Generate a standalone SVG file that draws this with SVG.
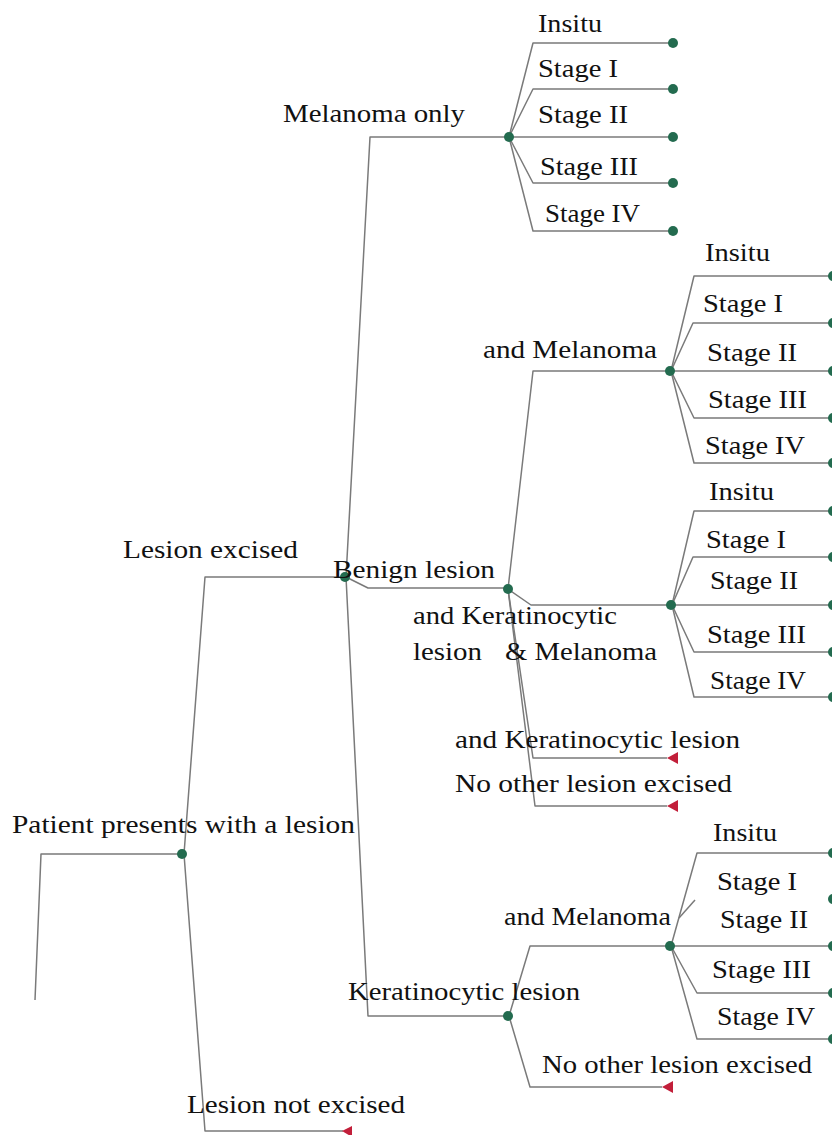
<svg xmlns="http://www.w3.org/2000/svg" width="832" height="1135" viewBox="0 0 832 1135">
<style>
.c{fill:none;stroke:#7a7a7a;stroke-width:1.5;stroke-linejoin:round}
.d{fill:#236b4f}
.t{fill:#c21f3a}
text{font-family:"Liberation Serif","Times New Roman",serif;font-size:26px;fill:#111}
</style>
<rect width="832" height="1135" fill="#ffffff"/>
<g id="connectors">
<path class="c" d="M35,1000 L41,854 L182,854"/>
<path class="c" d="M184,854 L205,577 L345,577"/>
<path class="c" d="M184,854 L205,1131 L343,1131"/>
<path class="c" d="M346,577 L370,137 L508,137"/>
<path class="c" d="M346,577 L368,588 L507,588"/>
<path class="c" d="M346,577 L368,1016 L507,1016"/>
<path class="c" d="M509,137 L533,43 L673,43"/>
<path class="c" d="M509,137 L533,89 L673,89"/>
<path class="c" d="M509,137 L673,137"/>
<path class="c" d="M509,137 L533,183 L673,183"/>
<path class="c" d="M509,137 L533,231 L673,231"/>
<path class="c" d="M508,589 L533,371 L670,371"/>
<path class="c" d="M508,589 L531,605 L671,605"/>
<path class="c" d="M508,589 L533,758 L667,758"/>
<path class="c" d="M508,589 L535,806 L667,806"/>
<path class="c" d="M671,371 L694,276 L833,276"/>
<path class="c" d="M671,371 L693,323 L833,323"/>
<path class="c" d="M671,371 L833,371"/>
<path class="c" d="M671,371 L694,418 L833,418"/>
<path class="c" d="M671,371 L694,463 L833,463"/>
<path class="c" d="M672,605 L694,511 L833,511"/>
<path class="c" d="M672,605 L693,557 L833,557"/>
<path class="c" d="M672,605 L833,605"/>
<path class="c" d="M672,605 L694,652 L833,652"/>
<path class="c" d="M672,605 L694,697 L833,697"/>
<path class="c" d="M509,1016 L530,946 L669,946"/>
<path class="c" d="M509,1016 L530,1087 L662,1087"/>
<path class="c" d="M671,946 L697,853 L833,853"/>
<path class="c" d="M679,918 L695,900"/>
<path class="c" d="M671,946 L833,946"/>
<path class="c" d="M671,946 L697,993 L833,993"/>
<path class="c" d="M671,946 L697,1039 L833,1039"/>
</g>
<g id="n-root"><circle class="d" cx="182" cy="854" r="5"/><text x="12" y="833" textLength="343" lengthAdjust="spacingAndGlyphs">Patient presents with a lesion</text></g>
<g id="n-excised"><circle class="d" cx="345" cy="577" r="5"/><text x="123" y="558" textLength="175" lengthAdjust="spacingAndGlyphs">Lesion excised</text></g>
<g id="n-notexcised"><polygon class="t" points="342,1131 352,1126 352,1137"/><text x="187" y="1113" textLength="218" lengthAdjust="spacingAndGlyphs">Lesion not excised</text></g>
<g id="n-melonly"><circle class="d" cx="509" cy="137" r="5"/><text x="283" y="122" textLength="182" lengthAdjust="spacingAndGlyphs">Melanoma only</text></g>
<g id="n-benign"><circle class="d" cx="508" cy="589" r="5"/><text x="333" y="578" textLength="162" lengthAdjust="spacingAndGlyphs">Benign lesion</text></g>
<g id="n-kerat"><circle class="d" cx="508" cy="1016" r="5"/><text x="348" y="1000" textLength="232" lengthAdjust="spacingAndGlyphs">Keratinocytic lesion</text></g>
<g id="n-mo-insitu"><circle class="d" cx="673" cy="43" r="5"/><text x="538" y="32" textLength="64" lengthAdjust="spacingAndGlyphs">Insitu</text></g>
<g id="n-mo-s1"><circle class="d" cx="673" cy="89" r="5"/><text x="538" y="77" textLength="80" lengthAdjust="spacingAndGlyphs">Stage I</text></g>
<g id="n-mo-s2"><circle class="d" cx="673" cy="137" r="5"/><text x="538" y="123" textLength="90" lengthAdjust="spacingAndGlyphs">Stage II</text></g>
<g id="n-mo-s3"><circle class="d" cx="673" cy="183" r="5"/><text x="540" y="175" textLength="98" lengthAdjust="spacingAndGlyphs">Stage III</text></g>
<g id="n-mo-s4"><circle class="d" cx="673" cy="231" r="5"/><text x="545" y="222" textLength="95" lengthAdjust="spacingAndGlyphs">Stage IV</text></g>
<g id="n-b-mel"><circle class="d" cx="670" cy="371" r="5"/><text x="483" y="358" textLength="174" lengthAdjust="spacingAndGlyphs">and Melanoma</text></g>
<g id="n-b-kermel"><circle class="d" cx="671" cy="605" r="5"/><text x="413" y="624" textLength="204" lengthAdjust="spacingAndGlyphs">and Keratinocytic</text><text x="413" y="660" textLength="69" lengthAdjust="spacingAndGlyphs">lesion</text><text x="505" y="660" textLength="152" lengthAdjust="spacingAndGlyphs">&amp; Melanoma</text></g>
<g id="n-b-ker"><polygon class="t" points="667,758 678,752 678,764"/><text x="455" y="748" textLength="285" lengthAdjust="spacingAndGlyphs">and Keratinocytic lesion</text></g>
<g id="n-b-none"><polygon class="t" points="667,806 678,800 678,812"/><text x="455" y="792" textLength="277" lengthAdjust="spacingAndGlyphs">No other lesion excised</text></g>
<g id="n-bm-insitu"><circle class="d" cx="833" cy="276" r="5"/><text x="705" y="261" textLength="65" lengthAdjust="spacingAndGlyphs">Insitu</text></g>
<g id="n-bm-s1"><circle class="d" cx="833" cy="323" r="5"/><text x="703" y="312" textLength="80" lengthAdjust="spacingAndGlyphs">Stage I</text></g>
<g id="n-bm-s2"><circle class="d" cx="833" cy="371" r="5"/><text x="707" y="361" textLength="90" lengthAdjust="spacingAndGlyphs">Stage II</text></g>
<g id="n-bm-s3"><circle class="d" cx="833" cy="418" r="5"/><text x="708" y="408" textLength="99" lengthAdjust="spacingAndGlyphs">Stage III</text></g>
<g id="n-bm-s4"><circle class="d" cx="833" cy="463" r="5"/><text x="705" y="454" textLength="100" lengthAdjust="spacingAndGlyphs">Stage IV</text></g>
<g id="n-bkm-insitu"><circle class="d" cx="833" cy="511" r="5"/><text x="709" y="500" textLength="65" lengthAdjust="spacingAndGlyphs">Insitu</text></g>
<g id="n-bkm-s1"><circle class="d" cx="833" cy="557" r="5"/><text x="706" y="548" textLength="80" lengthAdjust="spacingAndGlyphs">Stage I</text></g>
<g id="n-bkm-s2"><circle class="d" cx="833" cy="605" r="5"/><text x="710" y="589" textLength="88" lengthAdjust="spacingAndGlyphs">Stage II</text></g>
<g id="n-bkm-s3"><circle class="d" cx="833" cy="652" r="5"/><text x="707" y="643" textLength="99" lengthAdjust="spacingAndGlyphs">Stage III</text></g>
<g id="n-bkm-s4"><circle class="d" cx="833" cy="697" r="5"/><text x="710" y="689" textLength="96" lengthAdjust="spacingAndGlyphs">Stage IV</text></g>
<g id="n-k-mel"><circle class="d" cx="670" cy="946" r="5"/><text x="504" y="925" textLength="167" lengthAdjust="spacingAndGlyphs">and Melanoma</text></g>
<g id="n-k-none"><polygon class="t" points="662,1087 673,1081 673,1093"/><text x="542" y="1073" textLength="270" lengthAdjust="spacingAndGlyphs">No other lesion excised</text></g>
<g id="n-km-insitu"><circle class="d" cx="833" cy="853" r="5"/><text x="713" y="841" textLength="64" lengthAdjust="spacingAndGlyphs">Insitu</text></g>
<g id="n-km-s1"><circle class="d" cx="833" cy="899" r="5"/><text x="717" y="890" textLength="80" lengthAdjust="spacingAndGlyphs">Stage I</text></g>
<g id="n-km-s2"><circle class="d" cx="833" cy="946" r="5"/><text x="720" y="928" textLength="88" lengthAdjust="spacingAndGlyphs">Stage II</text></g>
<g id="n-km-s3"><circle class="d" cx="833" cy="993" r="5"/><text x="712" y="978" textLength="99" lengthAdjust="spacingAndGlyphs">Stage III</text></g>
<g id="n-km-s4"><circle class="d" cx="833" cy="1039" r="5"/><text x="717" y="1025" textLength="98" lengthAdjust="spacingAndGlyphs">Stage IV</text></g>
</svg>
